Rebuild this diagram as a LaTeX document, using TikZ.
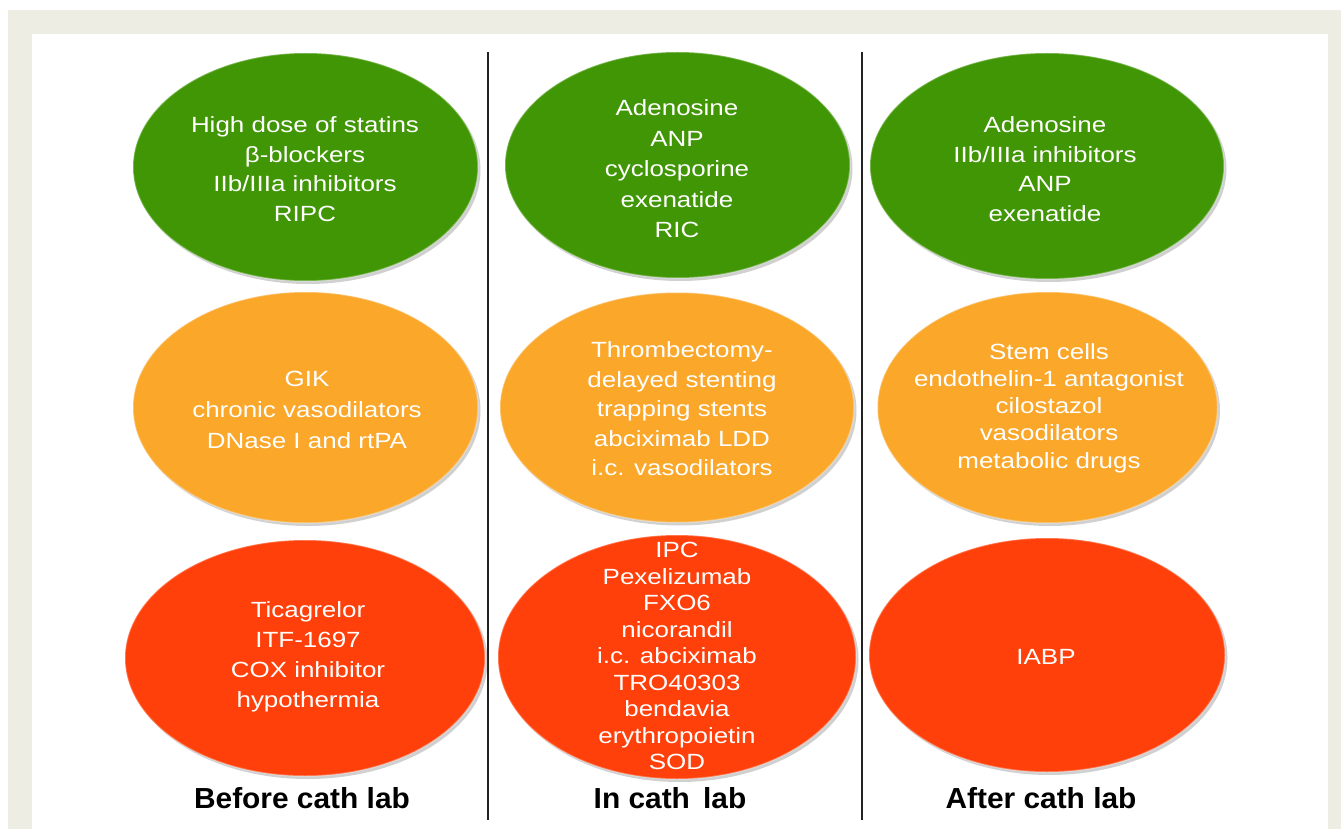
\documentclass[tikz,border=0pt]{standalone}
\usepackage{fontspec}
\setmainfont{Liberation Sans}
\newfontfamily\bodyfont[FakeStretch=1.18]{Liberation Sans}
\newfontfamily\labfont[FakeStretch=1.03]{Liberation Sans}
\usetikzlibrary{shapes.geometric,shadows}
\definecolor{frameb}{HTML}{EDEDE3}
\definecolor{cgreen}{HTML}{409604}
\definecolor{corange}{HTML}{FAA72A}
\definecolor{cred}{HTML}{FF400A}
\definecolor{cline}{HTML}{222222}
\tikzset{
  blob/.style={ellipse, inner sep=0pt, draw=white, draw opacity=0.3, line width=1.5pt,
    drop shadow={shadow xshift=2.5pt, shadow yshift=-3pt, opacity=0.3, fill=black!60}},
  gblob/.style={blob, fill=cgreen},
  oblob/.style={blob, fill=corange},
  rblob/.style={blob, fill=cred},
  txt/.style={text=white, align=center, inner sep=0pt,
    font=\bodyfont\fontsize{22}{#1}\selectfont},
  lab/.style={anchor=base, text=black, inner sep=0pt,
    font=\labfont\bfseries\fontsize{29}{34}\selectfont},
  sep/.style={draw=cline, line width=1.8pt}
}
\begin{document}
\begin{tikzpicture}[x=1pt,y=-1pt]
\useasboundingbox (0,0) rectangle (1341,829);
\fill[white] (0,0) rectangle (1341,829);
\fill[frameb] (8,10) rectangle (1341,829);
\fill[white] (32,34) rectangle (1328,829);

% separators
\coordinate (s1t) at (488,52);
\coordinate (s1b) at (488,820);
\coordinate (s2t) at (862,52);
\coordinate (s2b) at (862,820);
\draw[sep] (s1t) -- (s1b);
\draw[sep] (s2t) -- (s2b);

% green row
\node[gblob, minimum width=345pt, minimum height=228pt] (g1) at (305.5,167) {};
\node[gblob, minimum width=345pt, minimum height=226pt] (g2) at (677.5,165) {};
\node[gblob, minimum width=354pt, minimum height=226pt] (g3) at (1047,166) {};
% orange row
\node[oblob, minimum width=345pt, minimum height=231pt] (o1) at (305.5,407.5) {};
\node[oblob, minimum width=354pt, minimum height=230pt] (o2) at (677,407.5) {};
\node[oblob, minimum width=340pt, minimum height=231pt] (o3) at (1047.5,407.5) {};
% red row
\node[rblob, minimum width=360pt, minimum height=236pt] (r1) at (305,658) {};
\node[rblob, minimum width=358pt, minimum height=244pt] (r2) at (677,657) {};
\node[rblob, minimum width=356pt, minimum height=234pt] (r3) at (1047,655) {};

% texts
\node[txt=29.5] (tg1) at (305,169) {High dose of statins\\β-blockers\\IIb/IIIa inhibitors\\RIPC};
\node[txt=30.5] (tg2) at (677,169) {Adenosine\\ANP\\cyclosporine\\exenatide\\RIC};
\node[txt=29.5] (tg3) at (1045,169) {Adenosine\\IIb/IIIa inhibitors\\ANP\\exenatide};
\node[txt=31] (to1) at (307,410) {GIK\\chronic vasodilators\\DNase I and rtPA};
\node[txt=29.5] (to2) at (682,409) {Thrombectomy-\\delayed stenting\\trapping stents\\abciximab LDD\\i.c. vasodilators};
\node[txt=27.2] (to3) at (1049,408) {Stem cells\\endothelin-1 antagonist\\cilostazol\\vasodilators\\metabolic drugs};
\node[txt=30] (tr1) at (308,657) {Ticagrelor\\ITF-1697\\COX inhibitor\\hypothermia};
\node[txt=26.5] (tr2) at (677,656) {IPC\\Pexelizumab\\FXO6\\nicorandil\\i.c. abciximab\\TRO40303\\bendavia\\erythropoietin\\SOD};
\node[txt=30] (tr3) at (1046,657) {IABP};

% column labels
\node[lab] (l1) at (302,808) {Before cath lab};
\node[lab] (l2) at (670,808) {In cath~\,lab};
\node[lab] (l3) at (1041,808) {After cath lab};
\end{tikzpicture}
\end{document}
